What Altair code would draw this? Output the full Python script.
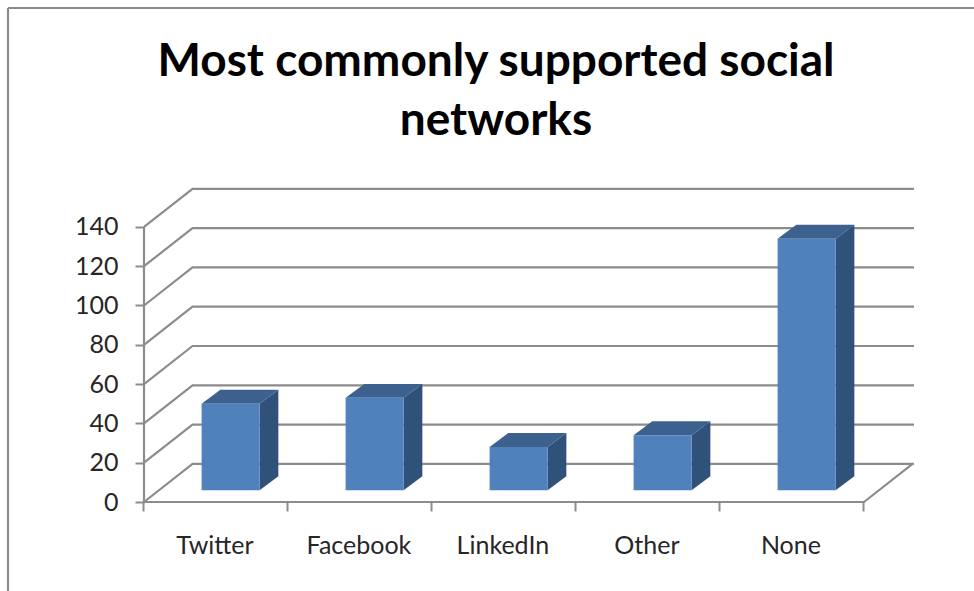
import json
import altair as alt
import pandas as pd

# Survey counts per network
categories = ["Twitter", "Facebook", "LinkedIn", "Other", "None"]
values = [44, 47, 22, 28, 128]
value_ticks = [0, 20, 40, 60, 80, 100, 120, 140]
category_ticks = [0, 1, 2, 3, 4, 5]

# Pseudo-3D geometry, in axis units (categories on x, counts on y)
PLOT_W, PLOT_H = 770, 313
X_MAX = PLOT_W / 144
Y_MAX = PLOT_H / 1.965
WALL_DX, WALL_DY = 0.337, 19.4     # shift from the floor's front edge to the back wall
BAR_LEFT, BAR_W = 0.40, 0.403      # bar front face inside its category slot
BAR_DX, BAR_DY = 0.13, 7.1         # depth of a bar
BAR_LIFT = 6.0                     # front face sits this far behind the floor's front edge

GRID = "#8c8c8c"
TEXT = "#262626"
FONT = "Lato"

x = alt.X("x:Q", title=None, scale=alt.Scale(domain=[0, X_MAX], nice=False, zero=False),
          axis=alt.Axis(values=category_ticks, domain=False, grid=False, tickSize=9, tickWidth=2,
                        tickColor=GRID, tickOffset=-0.6, labelOffset=71, labelPadding=22,
                        labelFontSize=25, labelFont=FONT, labelColor=TEXT, labelOverlap=False,
                        labelFlush=False, labelBound=False,
                        labelExpr=f"{json.dumps(categories)}[datum.value] || ''"))
y = alt.Y("y:Q", title=None, scale=alt.Scale(domain=[0, Y_MAX], nice=False, zero=False),
          axis=alt.Axis(values=value_ticks, domain=False, grid=False, tickSize=9, tickWidth=2,
                        tickColor=GRID, labelPadding=17, labelFontSize=25, labelFont=FONT,
                        labelColor=TEXT, labelOverlap=False, labelBound=False, labelFlush=False))

# Wall and floor lines
wall_rows = []
for v in value_ticks:
    for xx, yy in [(0, v), (WALL_DX, v + WALL_DY), (X_MAX, v + WALL_DY)]:
        wall_rows.append({"line": f"g{v}", "x": xx, "y": yy})
for xx, yy in [(0, 0), (5, 0), (5 + WALL_DX, WALL_DY)]:
    wall_rows.append({"line": "floor", "x": xx, "y": yy})
for xx, yy in [(0, 0), (0, 140)]:
    wall_rows.append({"line": "axis", "x": xx, "y": yy})
walls = alt.Chart(pd.DataFrame(wall_rows)).mark_line(color=GRID, strokeWidth=2.2).encode(
    x=x, y=y, detail="line:N", order="rank:Q"
).transform_window(rank="row_number()", groupby=["line"])

# Three faces of every bar
front_rows, top_rows, side_rows = [], [], []
for i, (name, v) in enumerate(zip(categories, values)):
    x0 = i + BAR_LEFT
    x1 = x0 + BAR_W
    b = BAR_LIFT
    t = b + v
    front_rows.append({"name": name, "x": x0, "x2": x1, "y": b, "y2": t})
    side_rows += [
        {"name": name, "x": x1, "y": b, "y2": t},
        {"name": name, "x": x1 + BAR_DX, "y": b + BAR_DY, "y2": t + BAR_DY},
    ]
    top_rows += [
        {"name": name, "x": x0, "y": t, "y2": t},
        {"name": name, "x": x0 + BAR_DX, "y": t, "y2": t + BAR_DY},
        {"name": name, "x": x1, "y": t, "y2": t + BAR_DY},
        {"name": name, "x": x1 + BAR_DX, "y": t + BAR_DY, "y2": t + BAR_DY},
    ]

front = alt.Chart(pd.DataFrame(front_rows)).mark_rect(color="#4f81bd").encode(
    x=x, x2="x2:Q", y=y, y2="y2:Q"
)
side = alt.Chart(pd.DataFrame(side_rows)).mark_area(color="#30527a", orient="vertical").encode(
    x=x, y=y, y2="y2:Q", detail="name:N"
)
top = alt.Chart(pd.DataFrame(top_rows)).mark_area(color="#3c618f", orient="vertical").encode(
    x=x, y=y, y2="y2:Q", detail="name:N"
)

# Outer chart border: top and left edges
border_top = alt.Chart().mark_rule(color=GRID, strokeWidth=2.2).encode(
    x=alt.value(-136), x2=alt.value(830), y=alt.value(-181)
)
border_left = alt.Chart().mark_rule(color=GRID, strokeWidth=2.2).encode(
    x=alt.value(-136), y=alt.value(-181), y2=alt.value(402)
)

chart = alt.layer(border_top, border_left, walls, side, top, front).properties(
    width=PLOT_W,
    height=PLOT_H,
    background="white",
    padding={"left": 144, "top": 189, "right": 60, "bottom": 89},
    autosize=alt.AutoSizeParams(type="none"),
    title=alt.TitleParams(
        text=["Most commonly supported social", "networks"],
        fontSize=46, font=FONT, fontWeight="bold", color="black",
        anchor="middle", lineHeight=59, dx=-33, dy=174, offset=0, baseline="alphabetic",
    ),
).configure_view(stroke=None)

chart.save("out.html", embed_options={"renderer": "svg", "actions": False})
